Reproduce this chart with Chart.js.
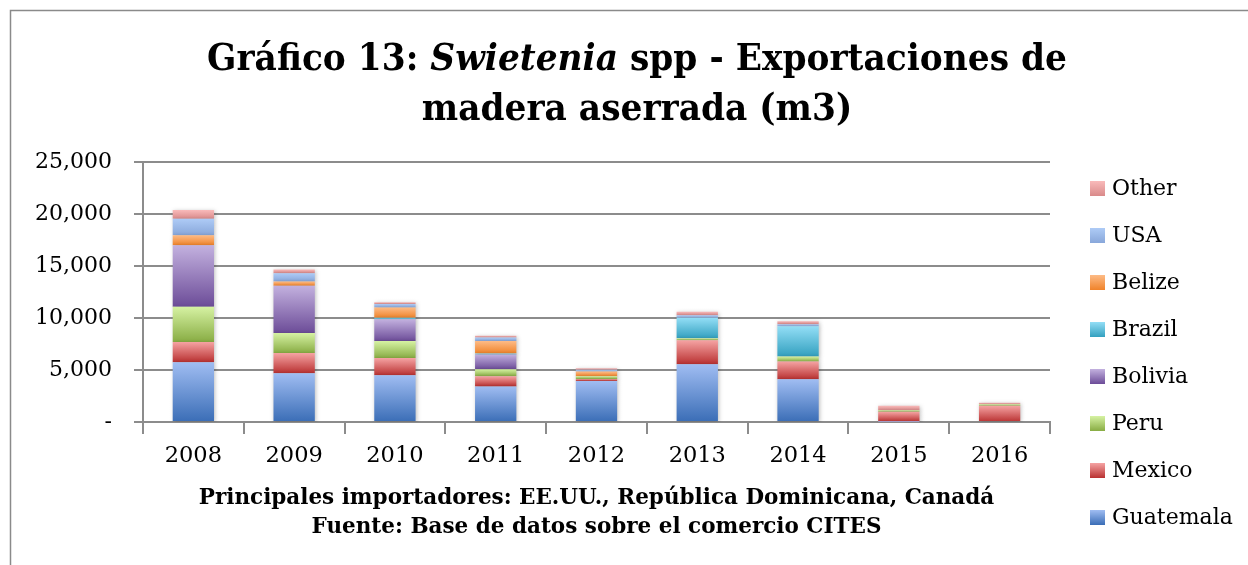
<!DOCTYPE html>
<html>
<head>
<meta charset="utf-8">
<script src="https://cdn.jsdelivr.net/npm/chart.js@4.4.1/dist/chart.umd.min.js"></script>
<style>
html,body{margin:0;padding:0;background:#fff;}
#wrap{width:1248px;height:565px;position:relative;}
</style>
</head>
<body>
<div id="wrap"><canvas id="c" width="1248" height="565"></canvas></div>
<script>
const years = ['2008','2009','2010','2011','2012','2013','2014','2015','2016'];
const guatemala = [5750, 4680, 4490, 3420, 3940, 5550, 4100, 30, 0];
const mexico    = [1940, 1940, 1650, 970, 190, 2300, 1710, 940, 1550];
const peru      = [3390, 1940, 1640, 680, 260, 190, 490, 160, 160];
const bolivia   = [5910, 4550, 2100, 1420, 0, 0, 0, 0, 0];
const brazil    = [0, 0, 130, 100, 0, 1970, 2900, 0, 0];
const belize    = [970, 390, 1000, 1190, 450, 0, 0, 0, 0];
const usa       = [1580, 810, 330, 330, 170, 260, 200, 0, 0];
const other     = [840, 350, 160, 190, 160, 320, 290, 420, 130];
const yTicks    = [0, 5000, 10000, 15000, 20000, 25000];

const seriesNames  = ['Guatemala','Mexico','Peru','Bolivia','Brazil','Belize','USA','Other'];
const seriesValues = [guatemala, mexico, peru, bolivia, brazil, belize, usa, other];
const topColors    = ['#a0bdf2','#f5a3a3','#d6f2a3','#c3b1df','#93def6','#fdbb86','#aecbf6','#f9baba'];
const bottomColors = ['#3a6db6','#b93131','#88ac43','#6c4c98','#33a0bf','#f0832a','#88a7da','#d98a8a'];

const titleParts1 = [
  { text: 'Gráfico 13: ', italic: false },
  { text: 'Swietenia', italic: true },
  { text: ' spp - Exportaciones de', italic: false }
];
const titleLine2 = 'madera aserrada (m3)';
const xTitle = ['Principales importadores: EE.UU., República Dominicana, Canadá', 'Fuente: Base de datos sobre el comercio CITES'];

const FONT = "'DejaVu Serif', 'Liberation Serif', serif";

function gradFor(ctx, i) {
  const chart = ctx.chart;
  const y = chart.scales.y;
  if (ctx.type !== 'data' || !y || !chart.chartArea) return bottomColors[i];
  const j = ctx.dataIndex;
  let base = 0;
  for (let k = 0; k < i; k++) base += seriesValues[k][j];
  const top = base + seriesValues[i][j];
  const yTop = y.getPixelForValue(top);
  const yBot = y.getPixelForValue(base);
  if (!isFinite(yTop) || !isFinite(yBot) || yTop === yBot) return bottomColors[i];
  const g = chart.ctx.createLinearGradient(0, yTop, 0, yBot);
  g.addColorStop(0, topColors[i]);
  g.addColorStop(1, bottomColors[i]);
  return g;
}

const datasets = seriesNames.map((name, i) => ({
  label: name,
  data: seriesValues[i],
  backgroundColor: (ctx) => gradFor(ctx, i),
  borderWidth: 0,
  categoryPercentage: 1.0,
  barPercentage: 0.41
}));

const decorPlugin = {
  id: 'decor',
  beforeDraw(chart) {
    const c = chart.ctx;
    c.save();
    c.fillStyle = '#fff';
    c.fillRect(0, 0, chart.width, chart.height);
    c.strokeStyle = '#8a8a8a';
    c.lineWidth = 1.5;
    c.strokeRect(10.5, 10.5, 1400, 800);
    c.restore();
  },
  beforeDatasetsDraw(chart) {
    const c = chart.ctx;
    c.save();
    c.shadowColor = 'rgba(0,0,0,0.25)';
    c.shadowBlur = 4;
    c.shadowOffsetX = 1;
    c.shadowOffsetY = 1;
  },
  afterDatasetsDraw(chart) {
    chart.ctx.restore();
  },
  afterDraw(chart) {
    const c = chart.ctx;
    // title
    const size = 37, sx = 0.93, cx = 637;
    c.save();
    c.fillStyle = '#000';
    c.textBaseline = 'alphabetic';
    c.textAlign = 'left';
    const fontOf = (it) => (it ? 'italic ' : '') + 'bold ' + size + 'px ' + FONT;
    let w = 0;
    titleParts1.forEach(p => { c.font = fontOf(p.italic); p.w = c.measureText(p.text).width; w += p.w; });
    c.translate(cx, 0);
    c.scale(sx, 1);
    let x = -w / 2;
    titleParts1.forEach(p => { c.font = fontOf(p.italic); c.fillText(p.text, x, 70); x += p.w; });
    c.font = fontOf(false);
    c.textAlign = 'center';
    c.fillText(titleLine2, 0, 120);
    c.restore();

    // legend (reverse order, top = last series)
    c.save();
    c.font = '22px ' + FONT;
    c.textBaseline = 'middle';
    c.textAlign = 'left';
    const lx = 1090, ly0 = 188.5, step = 47;
    for (let k = 0; k < seriesNames.length; k++) {
      const i = seriesNames.length - 1 - k;
      const cy = ly0 + k * step;
      const g = c.createLinearGradient(0, cy - 7.5, 0, cy + 7.5);
      g.addColorStop(0, topColors[i]);
      g.addColorStop(1, bottomColors[i]);
      c.fillStyle = g;
      c.fillRect(lx, cy - 7.5, 15, 15);
      c.fillStyle = '#000';
      c.fillText(seriesNames[i], lx + 22, cy + 1);
    }
    c.restore();
  }
};

new Chart(document.getElementById('c'), {
  type: 'bar',
  data: { labels: years, datasets },
  plugins: [decorPlugin],
  options: {
    responsive: false,
    animation: false,
    devicePixelRatio: 1,
    layout: { padding: { left: 13, right: 198, top: 162, bottom: 23 } },
    plugins: {
      title: { display: false },
      legend: { display: false },
      tooltip: { enabled: false }
    },
    scales: {
      x: {
        stacked: true,
        offset: true,
        grid: {
          display: true,
          offset: true,
          drawOnChartArea: false,
          drawTicks: true,
          tickLength: 12,
          color: '#8c8c8c',
          lineWidth: 2
        },
        border: { display: true, color: '#8c8c8c', width: 2 },
        ticks: { color: '#000', font: { family: FONT, size: 22.5 }, padding: 9 },
        title: {
          display: true,
          text: xTitle,
          color: '#000',
          font: { family: FONT, size: 21.5, weight: 'bold', lineHeight: 1.35 },
          padding: { top: 5, bottom: 0 }
        }
      },
      y: {
        stacked: true,
        min: 0,
        max: 25000,
        afterBuildTicks(scale) { scale.ticks = yTicks.map(v => ({ value: v })); },
        grid: {
          color: '#8c8c8c',
          lineWidth: 2,
          tickLength: 9
        },
        border: { display: true, color: '#8c8c8c', width: 2 },
        ticks: {
          color: '#000',
          font: { family: FONT, size: 22 },
          padding: 22,
          callback(v) { return v === 0 ? '-' : v.toLocaleString('en-US'); }
        }
      }
    }
  }
});
</script>
</body>
</html>
